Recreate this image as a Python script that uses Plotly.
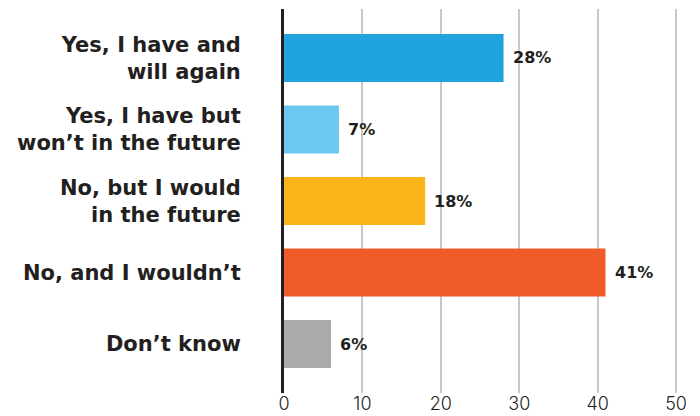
import plotly.graph_objects as go

categories = ["Yes, I have and<br>will again", "Yes, I have but<br>won’t in the future",
              "No, but I would<br>in the future", "No, and I wouldn’t", "Don’t know"]
values = [28, 7, 18, 41, 6]
colors = ["#20A4DD", "#6CC8F0", "#FBB51A", "#F15A29", "#ABABAB"]
tick_vals = [0, 10, 20, 30, 40, 50]

fig = go.Figure()
fig.add_trace(go.Bar(
    y=categories, x=values, orientation="h",
    marker=dict(color=colors, line=dict(width=0)),
    hoverinfo="skip",
))

for c, v in zip(categories, values):
    fig.add_annotation(x=v, y=c, text=f"<b>{v}%</b>", showarrow=False,
                       xanchor="left", xshift=7, yshift=0,
                       font=dict(family="DejaVu Sans", size=16, color="#231F20"))

# page body has an 8px default margin, so the figure is sized/offset to compensate
fig.update_layout(
    width=692, height=408,
    margin=dict(l=276, r=20, t=1, b=23, autoexpand=False),
    paper_bgcolor="white", plot_bgcolor="white",
    bargap=0.33, showlegend=False,
    font=dict(family="DejaVu Sans", color="#231F20"),
)
fig.update_xaxes(
    range=[0, 50.5], tickvals=tick_vals, ticks="", showgrid=True,
    gridcolor="#C8C8C8", gridwidth=2, zeroline=False, showline=False,
    tickfont=dict(family="Inter", size=18, color="#231F20", weight=300),
    ticklabelstandoff=-2,
    fixedrange=True, automargin=False,
)
fig.update_yaxes(
    range=[4.685, -0.685], type="category", showgrid=False,
    showline=True, linecolor="#231F20", linewidth=3, ticks="",
    ticklabelstandoff=36, automargin=False,
    tickfont=dict(family="DejaVu Sans", size=21, color="#231F20", weight=700),
)

fig.write_html("out.html")
